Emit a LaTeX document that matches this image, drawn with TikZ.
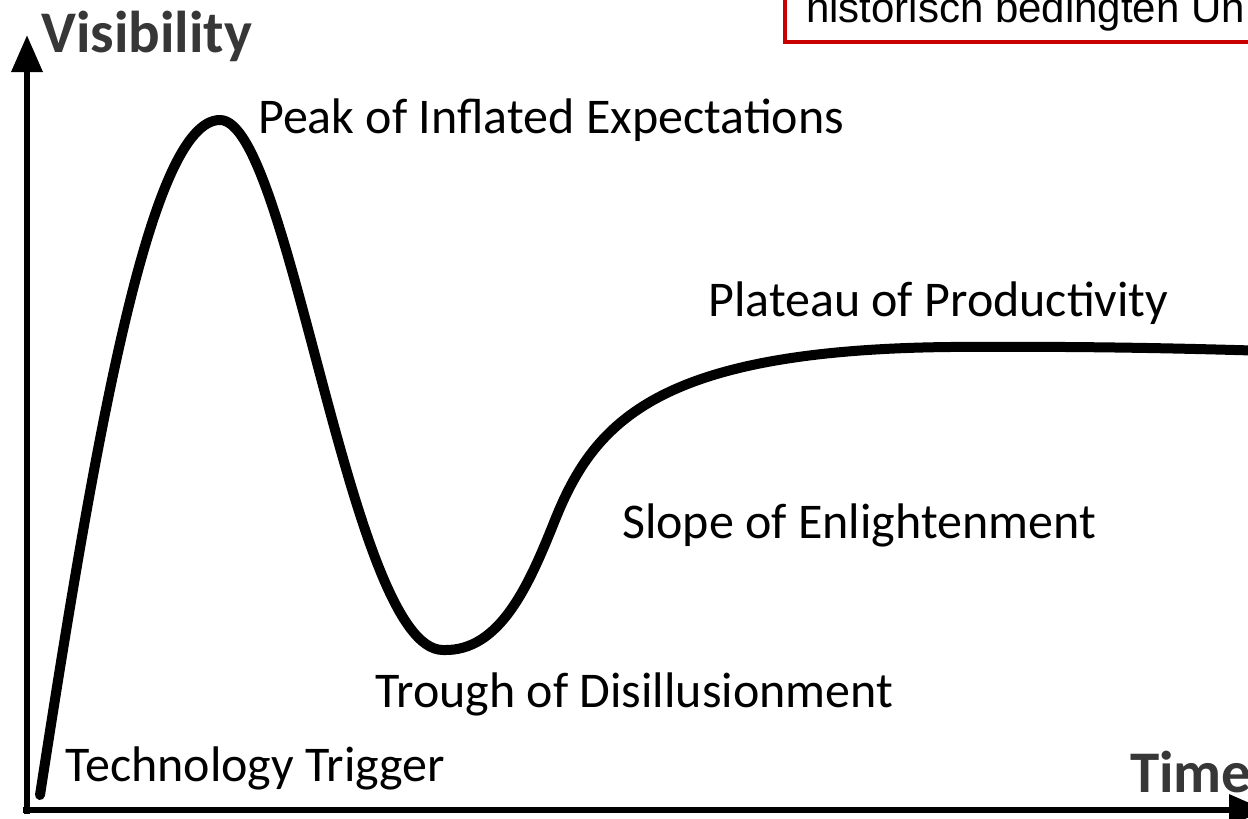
\documentclass[tikz,border=0pt]{standalone}
\usepackage{fontspec}
\setmainfont{Carlito}
\newfontfamily\boxfont{Liberation Sans}
\usetikzlibrary{arrows.meta}
\definecolor{boxred}{RGB}{200,0,0}
\definecolor{axisgray}{RGB}{55,55,55}
\tikzset{
  axisline/.style={line width=6.5pt, -{Triangle[length=37pt,width=30pt]}},
  hype/.style={line width=10pt, line cap=round, line join=round},
  phase/.style={anchor=base west, inner sep=0pt, font=\fontsize{50}{56}\selectfont},
  axislabel/.style={anchor=base west, inner sep=0pt, text=axisgray, font=\fontsize{59}{66}\selectfont\bfseries},
  notebox/.style={draw=boxred, line width=4.5pt},
  notetext/.style={anchor=base west, inner sep=0pt, font=\boxfont\fontsize{42}{48}\selectfont}
}
\begin{document}
\begin{tikzpicture}[x=1pt,y=-1pt]
\useasboundingbox (0,0) rectangle (1248,819);
\clip (0,0) rectangle (1248,819);
\fill[white] (0,0) rectangle (1248,819);
% note box (cut off by the edge)
\draw[notebox] (785,-60) rectangle (1320,42);
\node[notetext] (note) at (806,23) {historisch bedingten Un};
% axes
\coordinate (ytop) at (27,35);
\coordinate (xend) at (1266,810);
\coordinate (ystart) at (27,814);
\coordinate (xstart) at (23,810);
\draw[axisline] (ystart) -- (ytop);
\draw[axisline] (xstart) -- (xend);
% hype curve
\coordinate (start) at (40,795);
\coordinate (peak) at (220,120);
\coordinate (trough) at (443,650);
\coordinate (slope) at (555,520);
\coordinate (plat) at (950,347);
\coordinate (plend) at (1270,351);
\draw[hype] (start) .. controls (95,440) and (150,120) .. (peak)
  .. controls (290,120) and (350,650) .. (trough)
  .. controls (500,652) and (529,585) .. (slope)
  .. controls (595,420) and (660,350) .. (plat)
  .. controls (1100,346) and (1200,349) .. (plend);
% labels
\node[axislabel] (vis) at (41,52) {Visibility};
\node[axislabel] (time) at (1130,792) {Time};
\node[phase] (lpeak) at (258,133) {Peak of Inflated Expectations};
\node[phase] (lplat) at (708,316) {Plateau of Productivity};
\node[phase] (lslope) at (622,538) {Slope of Enlightenment};
\node[phase] (ltrough) at (375,707) {Trough of Disillusionment};
\node[phase] (ltrig) at (65,781) {Technology Trigger};
\end{tikzpicture}
\end{document}
